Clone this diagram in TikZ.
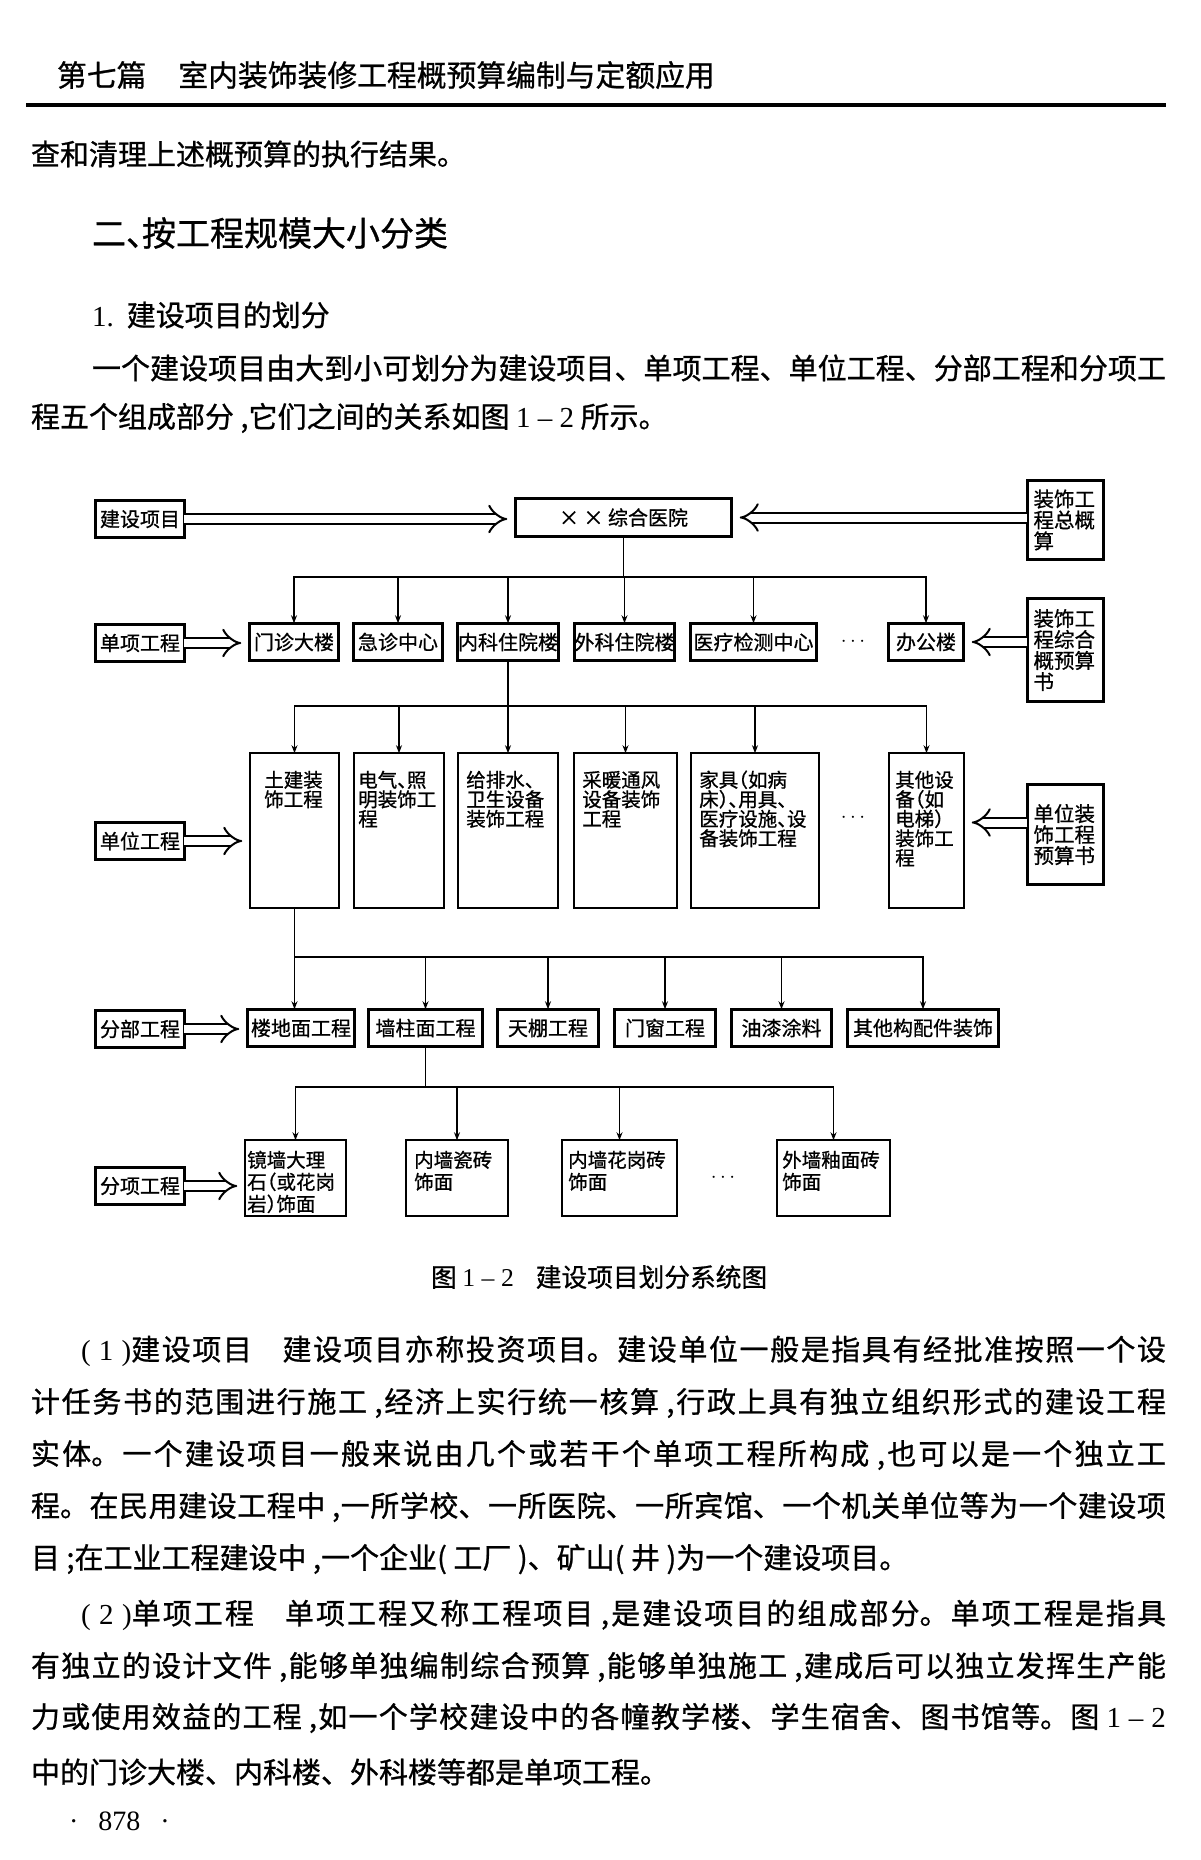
\documentclass[tikz,border=0pt]{standalone}
\usepackage{fontspec}
\setmainfont{Noto Sans CJK SC}[FakeBold=0.8]
\newfontfamily\lat{Liberation Serif}
\usetikzlibrary{arrows.meta, positioning}

\newcommand{\bodyfont}{\fontsize{29}{29}\selectfont}
\newcommand{\boxfont}{\fontsize{20}{20}\selectfont}
\newcommand{\tallfont}{\fontsize{19.5}{19.5}\selectfont}
\newcommand{\sidefont}{\fontsize{20.5}{21}\selectfont}
\newcommand{\hw}[1]{{\addfontfeature{RawFeature=+halt}#1}}
\newcommand{\fullline}[1]{\noindent\parfillskip=0pt\relax #1\par}

\begin{document}
\begin{tikzpicture}[
    x=1pt, y=-1pt,
    every node/.style={inner sep=0pt, outer sep=0pt},
    txt/.style={anchor=west, font=\bodyfont},
    jline/.style={anchor=west, font=\bodyfont, text width=#1, align=justify,
      execute at begin node={\XeTeXlinebreaklocale "zh"\XeTeXlinebreakskip=0pt plus 6pt\relax}},
    lbl/.style={draw, line width=2.6pt, minimum width=88.5pt, minimum height=36.5pt, font=\boxfont},
    unit/.style={draw, line width=2.6pt, minimum height=37.5pt, font=\boxfont},
    tall/.style={draw, line width=2.4pt, font=\tallfont, align=left, inner xsep=8pt, inner ysep=18pt, text height=16pt, text depth=102.6pt},
    item/.style={draw, line width=2.4pt, font=\fontsize{19.5}{22}\selectfont, align=left, inner xsep=8pt, inner ysep=11pt, text height=16pt, text depth=37.5pt},
    side/.style={draw, line width=2.6pt, font=\sidefont, align=left, text width=64pt, inner xsep=6.25pt},
    dbl/.style={double, double distance=8pt, line width=2pt, -{Implies}, shorten >=8pt},
    tree/.style={line width=1.8pt, -{Stealth[length=8pt, width=6pt]}},
    dots/.style={font=\boxfont}
]
\fill[white] (0,0) rectangle (1200,1860);
\useasboundingbox (0,0) rectangle (1200,1860);

% page head
\node[txt, font=\fontsize{29.8}{30}\selectfont] (hdr) at (57,75) {第七篇\hspace{32pt}室内装饰装修工程概预算编制与定额应用};
\draw[line width=3.5pt] (26,105) -- (1166,105);
\node[txt] (l0) at (31,154) {查和清理上述概预算的执行结果。};
\node[txt, font=\fontsize{34}{34}\selectfont] (ttl) at (92,233) {二、\kern-18pt按工程规模大小分类};
\node[txt] (sub) at (92,315) {{\lat 1.}\hspace{13pt}建设项目的划分};
\node[jline=1074pt] (p0a) at (92,368) {\fullline{一个建设项目由大到小可划分为建设项目、单项工程、单位工程、分部工程和分项工}};
\node[txt] (p0b) at (31,418) {程五个组成部分 ,它们之间的关系如图 {\lat 1 – 2} 所示。};

% level labels
\node[lbl] (jsxm) at (140,519) {建设项目};
\node[lbl] (dxgc) at (140,643) {单项工程};
\node[lbl] (dwgc) at (140,841) {单位工程};
\node[lbl] (fbgc) at (140,1029) {分部工程};
\node[lbl] (fxgc) at (140,1186) {分项工程};

% project
\node[unit, minimum width=216.5pt, minimum height=38.5pt] (xm) at (623.5,517.5) {× × 综合医院};

% single projects
\node[unit, minimum width=89.5pt] (mz) at (294,642) {门诊大楼};
\node[unit, minimum width=89.5pt, right=14.5pt of mz] (jz) {急诊中心};
\node[unit, minimum width=101.5pt, right=14.5pt of jz] (nk) {内科住院楼};
\node[unit, minimum width=100.5pt, right=15.5pt of nk] (wk) {外科住院楼};
\node[unit, minimum width=126.5pt, right=15.5pt of wk] (yl) {医疗检测中心};
\node[dots] (d2) at (853,642) {$\cdots$};
\node[unit, minimum width=75.5pt] (bg) at (926,642) {办公楼};

% unit projects
\node[tall, text width=60.5pt, inner xsep=14pt] (tj) at (294.5,830.5) {土建装\\饰工程};
\node[tall, text width=81.5pt, inner xsep=4pt, right=15.5pt of tj] (dq) {电气\hw{、}照\\明装饰工\\程};
\node[tall, text width=83.5pt, right=14.5pt of dq] (gps) {给排水、\\卫生设备\\装饰工程};
\node[tall, text width=86.5pt, right=16.5pt of gps] (cn) {采暖通风\\设备装饰\\工程};
\node[tall, text width=111.5pt, right=14.5pt of cn] (jj) {家具\hw{（}如病\\床\hw{）、}用具\hw{、}\\医疗设施\hw{、}设\\备装饰工程};
\node[dots] (d3) at (853,818) {$\cdots$};
\node[tall, text width=62.5pt, inner xsep=6pt] (qt) at (926.5,830.5) {其他设\\备\hw{（}如\\电梯\hw{）}\\装饰工\\程};

% sub-divisional works
\node[unit, minimum width=107.5pt] (ld) at (301,1028) {楼地面工程};
\node[unit, minimum width=114.5pt, right=13.5pt of ld] (qz) {墙柱面工程};
\node[unit, minimum width=101.5pt, right=14.5pt of qz] (tp) {天棚工程};
\node[unit, minimum width=101.5pt, right=15.5pt of tp] (mc) {门窗工程};
\node[unit, minimum width=100.5pt, right=15.5pt of mc] (yq) {油漆涂料};
\node[unit, minimum width=151.5pt, right=15.5pt of yq] (gj) {其他构配件装饰};

% items
\node[item, text width=96.5pt, inner xsep=2pt] (jq) at (295.5,1178) {镜墙大理\\石\hw{（}或花岗\\岩\hw{）}饰面};
\node[item, text width=85.5pt] (nc) at (457,1178) {内墙瓷砖\\饰面};
\node[item, text width=102.5pt, inner xsep=6pt] (nh) at (619.5,1178) {内墙花岗砖\\饰面};
\node[dots] (d5) at (723,1178) {$\cdots$};
\node[item, text width=102.5pt, inner xsep=5pt] (ww) at (833.5,1178) {外墙釉面砖\\饰面};

% estimate documents
\node[side, minimum height=79.5pt] (zg) at (1065.5,520) {装饰工\\程总概\\算};
\node[side, minimum height=103.5pt] (zh) at (1065.5,650) {装饰工\\程综合\\概预算\\书};
\node[side, minimum height=100.5pt] (ys) at (1065.5,834.5) {单位装\\饰工程\\预算书};

% double arrows
\draw[dbl] (jsxm.east) -- (jsxm.east -| xm.west);
\draw[dbl] (zg.west |- xm.east) -- (xm.east);
\draw[dbl] (dxgc.east) -- (dxgc.east -| mz.west);
\draw[dbl] (zh.west |- bg.east) -- (bg.east);
\draw[dbl] (dwgc.east) -- (dwgc.east -| tj.west);
\draw[dbl] ([yshift=12pt]ys.west) -- ([yshift=12pt]ys.west -| qt.east);
\draw[dbl] (fbgc.east) -- (fbgc.east -| ld.west);
\draw[dbl] (fxgc.east) -- (fxgc.east -| jq.west);

% tree lines
\coordinate (bus1) at (0,577);
\coordinate (bus2) at (0,706);
\coordinate (bus3) at (0,957);
\coordinate (bus4) at (0,1087);
\draw[tree] (xm.south) |- (mz.north |- bus1) -- (mz.north);
\draw[tree] (xm.south) |- (jz.north |- bus1) -- (jz.north);
\draw[tree] (xm.south) |- (nk.north |- bus1) -- (nk.north);
\draw[tree] (xm.south) |- (wk.north |- bus1) -- (wk.north);
\draw[tree] (xm.south) |- (yl.north |- bus1) -- (yl.north);
\draw[tree] (xm.south) |- (bg.north |- bus1) -- (bg.north);
\draw[tree] (nk.south) |- (tj.north |- bus2) -- (tj.north);
\draw[tree] (nk.south) |- (dq.north |- bus2) -- (dq.north);
\draw[tree] (nk.south) |- (gps.north |- bus2) -- (gps.north);
\draw[tree] (nk.south) |- (cn.north |- bus2) -- (cn.north);
\draw[tree] (nk.south) |- (jj.north |- bus2) -- (jj.north);
\draw[tree] (nk.south) |- (qt.north |- bus2) -- (qt.north);
\draw[tree] (tj.south) -- (tj.south |- ld.north);
\draw[tree] (tj.south) |- (qz.north |- bus3) -- (qz.north);
\draw[tree] (tj.south) |- (tp.north |- bus3) -- (tp.north);
\draw[tree] (tj.south) |- (mc.north |- bus3) -- (mc.north);
\draw[tree] (tj.south) |- (yq.north |- bus3) -- (yq.north);
\draw[tree] (tj.south) |- (gj.north |- bus3) -- (gj.north);
\draw[tree] (qz.south) |- (jq.north |- bus4) -- (jq.north);
\draw[tree] (qz.south) |- (nc.north |- bus4) -- (nc.north);
\draw[tree] (qz.south) |- (nh.north |- bus4) -- (nh.north);
\draw[tree] (qz.south) |- (ww.north |- bus4) -- (ww.north);

% caption and text below
\node[txt, font=\fontsize{25.7}{26}\selectfont] (cap) at (431,1277) {图 {\lat 1 – 2}\hspace{22pt}建设项目划分系统图};
\node[jline=1085pt] (p1a) at (81,1351) {\fullline{{\lat ( 1 )}建设项目　建设项目亦称投资项目。建设单位一般是指具有经批准按照一个设}};
\node[jline=1135pt] (p1b) at (31,1403) {\fullline{计任务书的范围进行施工 ,经济上实行统一核算 ,行政上具有独立组织形式的建设工程}};
\node[jline=1135pt] (p1c) at (31,1455) {\fullline{实体。一个建设项目一般来说由几个或若干个单项工程所构成 ,也可以是一个独立工}};
\node[jline=1135pt] (p1d) at (31,1507) {\fullline{程。在民用建设工程中 ,一所学校、一所医院、一所宾馆、一个机关单位等为一个建设项}};
\node[txt] (p1e) at (31,1559) {目 ;在工业工程建设中 ,一个企业( 工厂 )、矿山( 井 )为一个建设项目。};
\node[jline=1085pt] (p2a) at (81,1615) {\fullline{{\lat ( 2 )}单项工程　单项工程又称工程项目 ,是建设项目的组成部分。单项工程是指具}};
\node[jline=1135pt] (p2b) at (31,1667) {\fullline{有独立的设计文件 ,能够单独编制综合预算 ,能够单独施工 ,建成后可以独立发挥生产能}};
\node[jline=1135pt] (p2c) at (31,1718) {\fullline{力或使用效益的工程 ,如一个学校建设中的各幢教学楼、学生宿舍、图书馆等。图 {\lat 1 – 2}}};
\node[txt] (p2d) at (31,1772) {中的门诊大楼、内科楼、外科楼等都是单项工程。};
\node[txt, font=\lat\fontsize{28}{28}\selectfont] (pg) at (69,1821) {·\hspace{20pt}878\hspace{20pt}·};
\end{tikzpicture}
\end{document}
